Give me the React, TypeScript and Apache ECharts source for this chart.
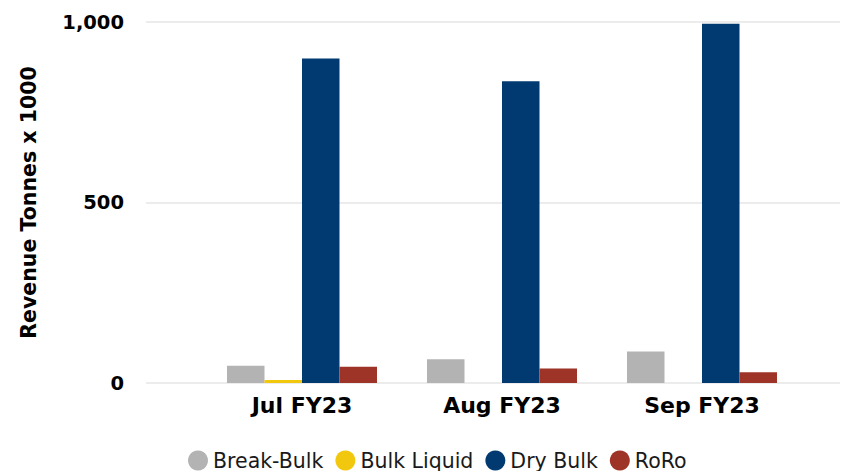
import React, { useEffect, useRef } from "react";
import * as echarts from "echarts";

const categories = ["Jul FY23", "Aug FY23", "Sep FY23"];
const breakBulk = [48, 66, 87];
const bulkLiquid = [8, 0, 0];
const dryBulk = [899, 836, 995];
const roro = [45, 40, 30];
const yTicks = [0, 500, 1000];

const seriesDefs = [
  { name: "Break-Bulk", data: breakBulk, color: "#B3B3B3" },
  { name: "Bulk Liquid", data: bulkLiquid, color: "#F2C80F" },
  { name: "Dry Bulk", data: dryBulk, color: "#003A70" },
  { name: "RoRo", data: roro, color: "#9E3327" },
];

export default function App() {
  const ref = useRef<HTMLDivElement>(null);
  useEffect(() => {
    if (!ref.current) return;
    const chart = echarts.init(ref.current, null, { renderer: "svg" });
    chart.setOption({
      animation: false,
      backgroundColor: "#ffffff",
      legend: {
        left: 188,
        top: 450,
        padding: 0,
        icon: "circle",
        itemWidth: 20,
        itemHeight: 20,
        itemGap: 12,
        textStyle: { fontFamily: "DejaVu Sans", fontSize: 20.5, color: "#1a1a1a" },
        data: seriesDefs.map((s) => s.name),
      },
      grid: [
        { left: 146, right: 1, top: 22, bottom: 88 },
        { left: 202, right: 39, top: 22, bottom: 88 },
      ],
      xAxis: [
        { type: "category", gridIndex: 0, data: [""], show: false },
        {
          type: "category",
          gridIndex: 1,
          data: categories,
          axisLine: { show: false },
          axisTick: { show: false },
          axisLabel: {
            fontFamily: "DejaVu Sans",
            fontWeight: "bold",
            fontSize: 22,
            color: "#000",
            margin: 11,
          },
        },
      ],
      yAxis: [
        {
          type: "value",
          gridIndex: 0,
          min: yTicks[0],
          max: yTicks[yTicks.length - 1],
          interval: 500,
          name: "Revenue Tonnes x 1000",
          nameLocation: "middle",
          nameGap: 107,
          nameTextStyle: { fontFamily: "DejaVu Sans", fontWeight: "bold", fontSize: 20.5, color: "#000" },
          axisLine: { show: false },
          axisTick: { show: false },
          splitLine: { lineStyle: { color: "#E6E6E6", width: 1.5 } },
          axisLabel: {
            fontFamily: "DejaVu Sans",
            fontWeight: "bold",
            fontSize: 19.5,
            color: "#000",
            margin: 22,
            formatter: (v: number) => v.toLocaleString("en-US"),
          },
        },
        {
          type: "value",
          gridIndex: 1,
          min: yTicks[0],
          max: yTicks[yTicks.length - 1],
          interval: 500,
          show: false,
          splitLine: { show: false },
        },
      ],
      series: seriesDefs.map((s) => ({
        type: "bar",
        name: s.name,
        xAxisIndex: 1,
        yAxisIndex: 1,
        data: s.data,
        barGap: "0%",
        barCategoryGap: "25%",
        itemStyle: { color: s.color },
      })),
    });
    return () => chart.dispose();
  }, []);
  return <div ref={ref} style={{ width: 841, height: 471, position: "absolute", left: 0, top: 0 }} />;
}
